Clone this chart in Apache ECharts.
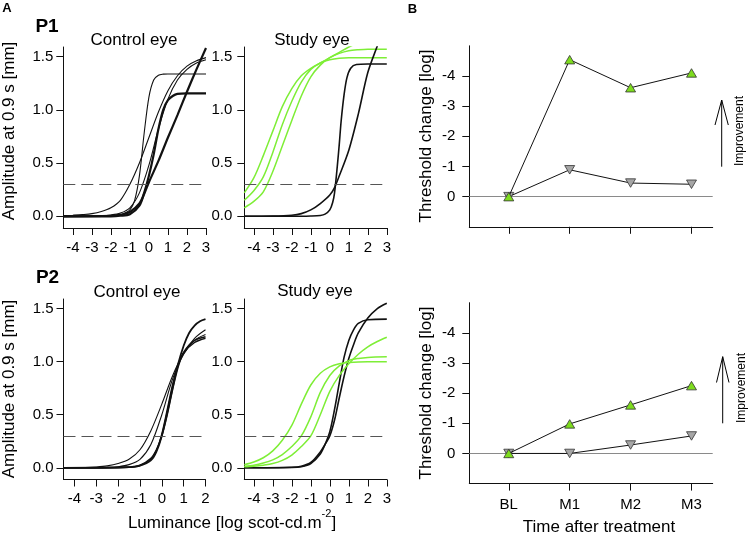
<!DOCTYPE html>
<html><head><meta charset="utf-8">
<script src="https://cdn.jsdelivr.net/npm/echarts@6/dist/echarts.min.js"></script>
<style>html,body{margin:0;padding:0;background:#fff}#c{width:748px;height:534px}</style>
</head><body><div id="c"></div>
<script>
// ---------- tick labels / categories ----------
const xTicksWide = [-4,-3,-2,-1,0,1,2,3];
const xTicksP2Control = [-4,-3,-2,-1,0,1,2];
const yTicksA = [0,0.5,1,1.5];
const timeCats = ['BL','M1','M2','M3'];
const timePos = [1,2,3,4];
const yTicksB = [-4,-3,-2,-1,0];
const thresholdAmp = 0.3;

// ---------- P1 control eye curves [log luminance, amplitude] ----------
const p1CtrlThinSteep = [[-4.5,0],[-2,0.002],[-1.5,0.01],[-1.25,0.03],[-1,0.06],[-0.75,0.15],[-0.5,0.38],[-0.25,0.78],[0,1.12],[0.25,1.28],[0.5,1.325],[0.75,1.335],[1,1.337],[3,1.337]];
const p1CtrlThickLow = [[-4.5,0],[-2,0],[-1.5,0.005],[-1,0.02],[-0.5,0.1],[-0.25,0.22],[0,0.38],[0.25,0.58],[0.5,0.82],[0.75,1.0],[1,1.09],[1.25,1.13],[1.5,1.15],[2,1.155],[3,1.155]];
const p1CtrlThickHigh = [[-4.5,0],[-2,0.005],[-1.5,0.015],[-1,0.04],[-0.5,0.12],[-0.25,0.21],[0,0.32],[0.5,0.52],[1,0.74],[1.5,0.95],[2,1.17],[2.5,1.38],[3,1.58]];
const p1CtrlThinEarly = [[-4.5,0.005],[-4,0.01],[-3.5,0.016],[-3,0.025],[-2.5,0.045],[-2,0.08],[-1.5,0.15],[-1,0.3],[-0.5,0.5],[0,0.74],[0.5,0.98],[1,1.18],[1.5,1.32],[2,1.41],[2.5,1.46],[3,1.49]];
const p1CtrlThinLate = [[-4.5,0],[-2.5,0.005],[-2,0.012],[-1.5,0.03],[-1,0.08],[-0.5,0.22],[0,0.48],[0.5,0.82],[1,1.1],[1.5,1.28],[2,1.38],[2.5,1.44],[3,1.47]];

// ---------- P1 study eye curves ----------
const p1StudyGreen1 = [[-4.5,0.22],[-4,0.36],[-3.5,0.57],[-3,0.8],[-2.5,1.03],[-2,1.2],[-1.5,1.32],[-1,1.39],[-0.5,1.44],[0,1.49],[0.5,1.54],[1,1.59],[1.5,1.63]];
const p1StudyGreen2 = [[-4.5,0.15],[-4,0.24],[-3.5,0.37],[-3,0.6],[-2.5,0.86],[-2,1.08],[-1.5,1.26],[-1,1.38],[-0.5,1.44],[0,1.47],[0.5,1.485],[1,1.49],[3,1.49]];
const p1StudyGreen3 = [[-4.5,0.08],[-4,0.14],[-3.5,0.23],[-3,0.42],[-2.5,0.66],[-2,0.9],[-1.5,1.13],[-1,1.31],[-0.5,1.42],[0,1.49],[0.5,1.53],[1,1.555],[1.5,1.565],[2,1.57],[3,1.57]];
const p1StudyBlackSteep = [[-4.5,0],[-1.5,0],[-1,0.002],[-0.5,0.008],[-0.25,0.02],[0,0.06],[0.15,0.13],[0.25,0.22],[0.4,0.48],[0.5,0.68],[0.6,0.9],[0.75,1.14],[0.9,1.3],[1.1,1.39],[1.4,1.425],[2,1.43],[3,1.43]];
const p1StudyBlackShallow = [[-4.5,0],[-3,0.002],[-2,0.01],[-1.5,0.025],[-1,0.06],[-0.5,0.12],[0,0.2],[0.25,0.27],[0.5,0.38],[1,0.62],[1.5,0.96],[2,1.35],[2.5,1.6],[2.75,1.72]];

// ---------- P2 control eye curves ----------
const p2Ctrl1 = [[-4.5,0],[-3.5,0.003],[-3,0.008],[-2.5,0.018],[-2,0.04],[-1.5,0.08],[-1,0.17],[-0.5,0.35],[0,0.6],[0.5,0.87],[1,1.08],[1.5,1.22],[2,1.30]];
const p2Ctrl2 = [[-4.5,0],[-2.5,0.004],[-2,0.01],[-1.5,0.03],[-1,0.08],[-0.5,0.22],[0,0.5],[0.5,0.84],[1,1.07],[1.5,1.2],[2,1.255]];
const p2Ctrl3 = [[-4.5,0],[-2,0.002],[-1.5,0.006],[-1,0.02],[-0.5,0.07],[-0.25,0.15],[0,0.3],[0.25,0.52],[0.5,0.76],[0.75,0.98],[1,1.15],[1.25,1.27],[1.5,1.34],[1.75,1.38],[2,1.40]];
const p2Ctrl4 = [[-4.5,0],[-1.5,0.005],[-1,0.02],[-0.5,0.08],[-0.25,0.16],[0,0.32],[0.25,0.55],[0.5,0.79],[0.75,0.97],[1,1.09],[1.5,1.2],[2,1.235]];
const p2Ctrl5 = [[-4.5,0],[-1.5,0.005],[-1,0.025],[-0.5,0.09],[-0.25,0.17],[0,0.3],[0.25,0.5],[0.5,0.74],[0.75,0.95],[1,1.08],[1.5,1.18],[2,1.22]];

// ---------- P2 study eye curves ----------
const p2StudyGreen1 = [[-4.5,0.03],[-4,0.055],[-3.5,0.095],[-3,0.16],[-2.5,0.26],[-2,0.4],[-1.5,0.6],[-1,0.78],[-0.5,0.89],[0,0.95],[0.5,0.98],[1,0.993],[2,1.0],[3,1.0]];
const p2StudyGreen2 = [[-4.5,0.015],[-4,0.025],[-3.5,0.045],[-3,0.075],[-2.5,0.125],[-2,0.2],[-1.5,0.3],[-1,0.48],[-0.5,0.71],[0,0.87],[0.5,0.96],[1,1.01],[1.5,1.03],[2,1.04],[3,1.045]];
const p2StudyGreen3 = [[-4.5,0.01],[-4,0.015],[-3.5,0.025],[-3,0.04],[-2.5,0.07],[-2,0.12],[-1.5,0.2],[-1,0.3],[-0.5,0.5],[0,0.72],[0.5,0.87],[1,0.98],[1.5,1.07],[2,1.14],[2.5,1.19],[3,1.23]];
const p2StudyBlack1 = [[-4.5,0],[-2,0.003],[-1.5,0.01],[-1,0.04],[-0.5,0.13],[-0.25,0.22],[0,0.34],[0.25,0.55],[0.5,0.8],[0.75,1.04],[1,1.2],[1.25,1.3],[1.5,1.36],[2,1.395],[3,1.40]];
const p2StudyBlack2 = [[-4.5,0],[-2,0.005],[-1.5,0.015],[-1,0.05],[-0.5,0.15],[-0.25,0.22],[0,0.3],[0.25,0.45],[0.5,0.66],[0.75,0.86],[1,1.03],[1.25,1.16],[1.5,1.27],[2,1.41],[2.5,1.5],[3,1.55]];

// ---------- Panel B: threshold change [log] ----------
const p1StudyThreshold = [0,-4.54,-3.61,-4.1];
const p1ControlThreshold = [0,-0.89,-0.45,-0.41];
const p2StudyThreshold = [0,-0.98,-1.61,-2.25];
const p2ControlThreshold = [0,0,-0.28,-0.58];

// ---------- styling ----------
const FONT = "'Liberation Sans', Arial, sans-serif";
const BLACK = '#111';
const GREEN = '#7EEE36';
const GREEN_FILL = '#7EDC1E';
const GRAY_FILL = '#A6A6A6';
const THIN = 1.1, THICK = 2.2, GW = 1.5;

const chart = echarts.init(document.getElementById('c'), null, {renderer:'canvas'});

const grids = [
  {left:63.3, top:47, width:142.7, height:181},
  {left:244.3, top:47, width:142.5, height:181},
  {left:63.5, top:299, width:142, height:180.5},
  {left:244.3, top:299, width:142.5, height:180.5},
  {left:469.3, top:45.8, width:243.4, height:181},
  {left:469.3, top:302.7, width:243.4, height:180.9}
].map(g => Object.assign({outerBoundsMode:'none', containLabel:false}, g));

const axisCommon = {
  axisLine:{show:true, onZero:false, lineStyle:{color:BLACK, width:1}},
  axisTick:{show:true, length:7, lineStyle:{color:BLACK, width:1}},
  splitLine:{show:false},
  axisLabel:{color:'#000', fontFamily:FONT, fontSize:15}
};
function xA(gi, min, max, ticks, opts={}) {
  return echarts.util.merge({
    type:'value', gridIndex:gi, min, max,
    axisTick:{customValues:ticks},
    axisLabel:{customValues:ticks, margin:12, show: opts.showLabel !== false,
      formatter: opts.fmt || (v => String(v))}
  }, echarts.util.clone(axisCommon), false);
}
function yA(gi, min, max, ticks, opts={}) {
  return echarts.util.merge({
    type:'value', gridIndex:gi, min, max, inverse: !!opts.inverse,
    axisTick:{customValues:ticks},
    axisLabel:{customValues:ticks, margin: opts.margin || 11,
      formatter: opts.fmt || (v => String(v))}
  }, echarts.util.clone(axisCommon), false);
}
const ampFmt = v => v.toFixed(1);
const catFmt = v => timeCats[timePos.indexOf(Math.round(v))] || '';

const xAxes = [
  xA(0,-4.5,3,xTicksWide),
  xA(1,-4.5,3,xTicksWide),
  xA(2,-4.5,2,xTicksP2Control),
  xA(3,-4.5,3,xTicksWide),
  xA(4,0.352,4.348,timePos,{showLabel:false}),
  xA(5,0.352,4.348,timePos,{fmt:catFmt})
];
xAxes[5].axisLabel.margin = 14;
const yAxes = [
  yA(0,-0.11,1.59,yTicksA,{fmt:ampFmt, margin:10}),
  yA(1,-0.11,1.59,yTicksA,{fmt:ampFmt, margin:12}),
  yA(2,-0.11,1.59,yTicksA,{fmt:ampFmt, margin:10}),
  yA(3,-0.11,1.59,yTicksA,{fmt:ampFmt, margin:12}),
  yA(4,-5,1,yTicksB,{inverse:true, margin:14}),
  yA(5,-5,1,yTicksB,{inverse:true, margin:14})
];

const series = [];
function curve(data, gi, color, width, withThreshold) {
  const s = {
    type:'line', xAxisIndex:gi, yAxisIndex:gi, data, showSymbol:false, symbol:'none',
    smooth:0.3, clip:true, silent:true,
    lineStyle:{color, width}, z:3
  };
  if (withThreshold) {
    s.markLine = {silent:true, symbol:['none','none'], label:{show:false},
      lineStyle:{color:'#555', width:1, type:[12,6]},
      data:[{yAxis:thresholdAmp}]};
  }
  series.push(s);
}
curve(p1CtrlThinEarly,0,BLACK,THIN,true);
curve(p1CtrlThinLate,0,BLACK,THIN);
curve(p1CtrlThinSteep,0,BLACK,THIN);
curve(p1CtrlThickLow,0,BLACK,THICK);
curve(p1CtrlThickHigh,0,BLACK,THICK);
curve(p1StudyGreen1,1,GREEN,GW,true);
curve(p1StudyGreen2,1,GREEN,GW);
curve(p1StudyGreen3,1,GREEN,GW);
curve(p1StudyBlackSteep,1,BLACK,1.6);
curve(p1StudyBlackShallow,1,BLACK,1.6);
curve(p2Ctrl1,2,BLACK,THIN,true);
curve(p2Ctrl2,2,BLACK,THIN);
curve(p2Ctrl4,2,BLACK,1.4);
curve(p2Ctrl5,2,BLACK,1.4);
curve(p2Ctrl3,2,BLACK,1.8);
curve(p2StudyBlack1,3,BLACK,1.6,true);
curve(p2StudyBlack2,3,BLACK,1.6);
curve(p2StudyGreen1,3,GREEN,GW);
curve(p2StudyGreen2,3,GREEN,GW);
curve(p2StudyGreen3,3,GREEN,GW);

function thresholdSeries(values, gi, up, withZero) {
  const s = {
    type:'line', xAxisIndex:gi, yAxisIndex:gi,
    data: values.map((v,i) => [timePos[i], v]),
    symbol:'triangle', symbolSize:[10,8.5], symbolRotate: up ? 0 : 180,
    showSymbol:true, silent:true,
    lineStyle:{color:BLACK, width:1},
    itemStyle:{color: up ? GREEN_FILL : GRAY_FILL, borderColor:'#333', borderWidth:0.8},
    z: up ? 5 : 4
  };
  if (withZero) {
    s.markLine = {silent:true, symbol:['none','none'], label:{show:false},
      lineStyle:{color:'#8a8a8a', width:1, type:'solid'}, data:[{yAxis:0}], z:1};
  }
  series.push(s);
}
thresholdSeries(p1ControlThreshold,4,false,true);
thresholdSeries(p1StudyThreshold,4,true,false);
thresholdSeries(p2ControlThreshold,5,false,true);
thresholdSeries(p2StudyThreshold,5,true,false);

function txt(x, y, text, size, o={}) {
  return {type:'text', x, y, rotation:o.rot||0, silent:true, z:10,
    style:{text, font:(o.bold?'bold ':'') + size + 'px ' + FONT, fill:'#000',
      textAlign:o.align||'center', textVerticalAlign:'middle'}};
}
const R90 = Math.PI/2;
const graphic = [
  txt(7,8,'A',13,{bold:true}),
  txt(412.5,9,'B',13,{bold:true}),
  txt(47,27,'P1',19,{bold:true}),
  txt(47.5,278,'P2',19,{bold:true}),
  txt(134,40,'Control eye',17),
  txt(312,40,'Study eye',17),
  txt(137,292.5,'Control eye',17),
  txt(315,291.5,'Study eye',17),
  txt(9,131,'Amplitude at 0.9 s [mm]',17,{rot:R90}),
  txt(9,389,'Amplitude at 0.9 s [mm]',17,{rot:R90}),
  txt(426,136,'Threshold change [log]',17,{rot:R90}),
  txt(426,393,'Threshold change [log]',17,{rot:R90}),
  txt(599,527,'Time after treatment',17),
  {type:'text', x:232, y:523, silent:true, z:10,
   style:{text:'{a|Luminance [log scot-cd.m}{s|-2}{a|]}', textAlign:'center', textVerticalAlign:'middle',
     rich:{a:{fontSize:17, fontFamily:FONT, fill:'#000', lineHeight:30},
           s:{fontSize:11, fontFamily:FONT, fill:'#000', lineHeight:9, verticalAlign:'top'}}}},
  txt(740,131,'Improvement',12,{rot:R90}),
  txt(742,388,'Improvement',12,{rot:R90}),
  {type:'line', silent:true, shape:{x1:721.7,y1:100,x2:721.7,y2:166.7}, style:{stroke:'#000', lineWidth:1}},
  {type:'polyline', silent:true, shape:{points:[[715,125],[721.7,100],[728.3,125]]}, style:{stroke:'#000', fill:null, lineWidth:1}},
  {type:'line', silent:true, shape:{x1:722.7,y1:356.7,x2:722.7,y2:423.3}, style:{stroke:'#000', lineWidth:1}},
  {type:'polyline', silent:true, shape:{points:[[716.5,382.5],[722.7,356.7],[729,382.5]]}, style:{stroke:'#000', fill:null, lineWidth:1}}
];

chart.setOption({
  animation:false,
  backgroundColor:'#fff',
  grid:grids, xAxis:xAxes, yAxis:yAxes, series, graphic
});
</script></body></html>
